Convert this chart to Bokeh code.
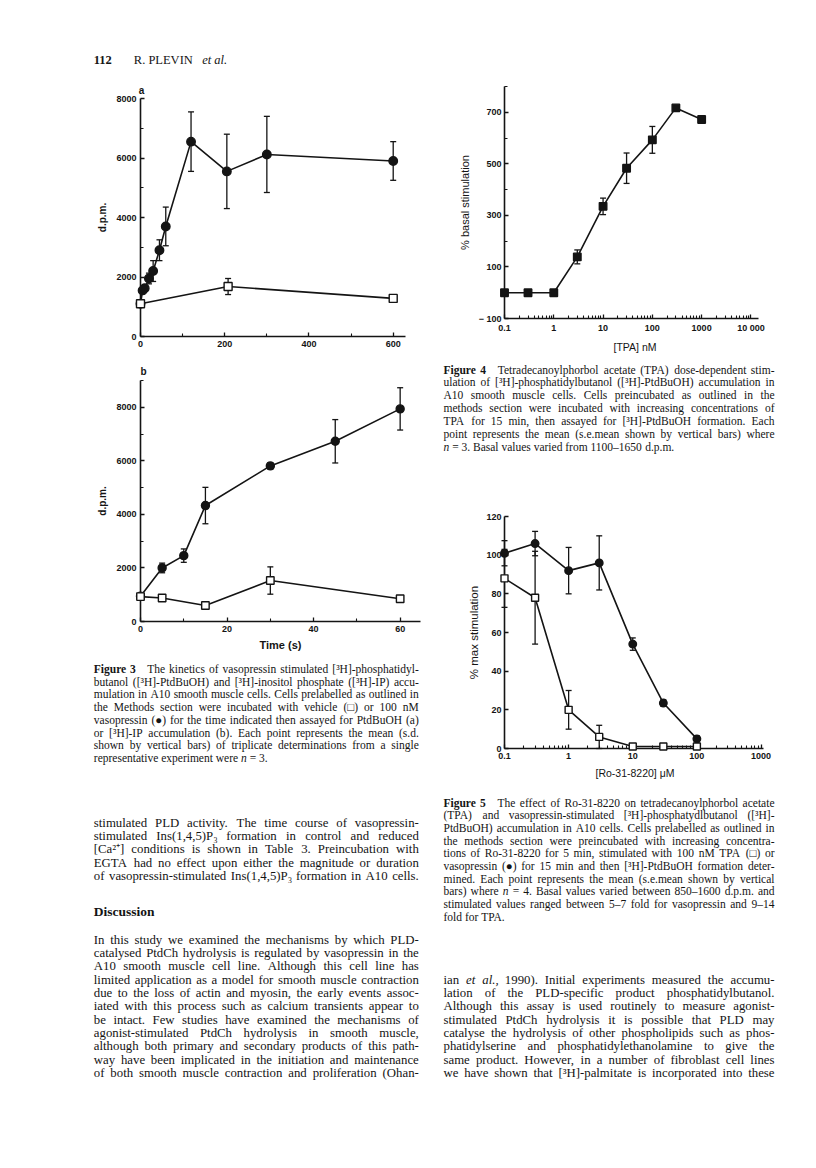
from bokeh.plotting import figure
from bokeh.layouts import column, row
from bokeh.models import Range1d, FixedTicker, CustomJSTickFormatter
from bokeh.core.properties import value
from bokeh.embed import file_html
from bokeh.resources import INLINE

# ---------------- data ----------------
# Figure 3a : [3H]-PtdBuOH (d.p.m.) vs time (s)
t3a_vaso = [0, 5, 10, 20, 30, 45, 60, 120, 205, 300, 600]
dpm3a_vaso = [1100, 1550, 1620, 1950, 2200, 2900, 3700, 6550, 5550, 6120, 5900]
sd3a_vaso = [0, 0, 100, 180, 350, 350, 650, 1000, 1250, 1280, 650]
t3a_veh = [0, 208, 600]
dpm3a_veh = [1100, 1680, 1280]
sd3a_veh = [0, 270, 0]

# Figure 3b : [3H]-IP (d.p.m.) vs time (s)
t3b_vaso = [0, 5, 10, 15, 30, 45, 60]
dpm3b_vaso = [945, 2000, 2460, 4330, 5810, 6730, 7940]
sd3b_vaso = [0, 180, 250, 680, 120, 810, 790]
t3b_veh = [0, 5, 15, 30, 60]
dpm3b_veh = [930, 880, 600, 1530, 850]
sd3b_veh = [0, 0, 0, 510, 0]

# Figure 4 : % basal stimulation vs [TPA] nM
tpa_nm = [0.1, 0.3, 1, 3, 10, 30, 100, 300, 1000]
basal_pct = [0, 0, 0, 139, 335, 483, 593, 717, 672]
sem4 = [0, 0, 0, 27, 32, 59, 52, 0, 0]

# Figure 5 : % max stimulation vs [Ro-31-8220] uM
ro_um = [0.1, 0.3, 1, 3, 10, 30, 100]
max_vaso = [101, 106, 92, 96, 54, 23.5, 5]
sem5_vaso = [6.5, 6.3, 12, 14, 3.2, 1.7, 1.5]
max_tpa = [88, 78, 20, 6, 1, 1, 1]
sem5_tpa = [15, 24, 10, 6, 0, 0, 0]

# ticks
ticks3a_x = [0, 200, 400, 600]
minor3a_x = [100, 300, 500]
ticks3_y = [0, 2000, 4000, 6000, 8000]
minor3a_y = [1000, 3000, 5000, 7000]
minor3b_y = [1000, 3000, 5000, 7000, 9000]
ticks3b_x = [0, 20, 40, 60]
minor3b_x = [10, 30, 50]
ticks4_y = [-100, 100, 300, 500, 700]
minor4_y = [0, 200, 400, 600, 800]
ticks4_x = [0.1, 1, 10, 100, 1000, 10000]
ticks5_y = [0, 20, 40, 60, 80, 100, 120]
ticks5_x = [0.1, 1, 10, 100, 1000]

# ---------------- texts ----------------
header_num = "112"
header_auth = "R. PLEVIN"
header_etal = "et al."
panel_a = "a"
panel_b = "b"

cap3 = [
    "*Figure *3  The kinetics of vasopressin stimulated [\u00b3H]-phosphatidyl-",
    "butanol ([\u00b3H]-PtdBuOH) and [\u00b3H]-inositol phosphate ([\u00b3H]-IP) accu-",
    "mulation in A10 smooth muscle cells. Cells prelabelled as outlined in",
    "the Methods section were incubated with vehicle (\u25a1) or 100 nM",
    "vasopressin (\u25cf) for the time indicated then assayed for PtdBuOH (a)",
    "or [\u00b3H]-IP accumulation (b). Each point represents the mean (s.d.",
    "shown by vertical bars) of triplicate determinations from a single",
    "representative experiment were _n = 3.",
]
body_l1 = [
    "stimulated PLD activity. The time course of vasopressin-",
    "stimulated Ins(1,4,5)P\u2083 formation in control and reduced",
    "[Ca\u00b2\u207a] conditions is shown in Table 3. Preincubation with",
    "EGTA had no effect upon either the magnitude or duration",
    "of vasopressin-stimulated Ins(1,4,5)P\u2083 formation in A10 cells.",
]
heading = "Discussion"
body_l2 = [
    "In this study we examined the mechanisms by which PLD-",
    "catalysed PtdCh hydrolysis is regulated by vasopressin in the",
    "A10 smooth muscle cell line. Although this cell line has",
    "limited application as a model for smooth muscle contraction",
    "due to the loss of actin and myosin, the early events assoc-",
    "iated with this process such as calcium transients appear to",
    "be intact. Few studies have examined the mechanisms of",
    "agonist-stimulated PtdCh hydrolysis in smooth muscle,",
    "although both primary and secondary products of this path-",
    "way have been implicated in the initiation and maintenance",
    "of both smooth muscle contraction and proliferation (Ohan-",
]
cap4 = [
    "*Figure *4  Tetradecanoylphorbol acetate (TPA) dose-dependent stim-",
    "ulation of [\u00b3H]-phosphatidylbutanol ([\u00b3H]-PtdBuOH) accumulation in",
    "A10 smooth muscle cells. Cells preincubated as outlined in the",
    "methods section were incubated with increasing concentrations of",
    "TPA for 15 min, then assayed for [\u00b3H]-PtdBuOH formation. Each",
    "point represents the mean (s.e.mean shown by vertical bars) where",
    "_n = 3. Basal values varied from 1100\u20131650 d.p.m.",
]
cap5 = [
    "*Figure *5  The effect of Ro-31-8220 on tetradecanoylphorbol acetate",
    "(TPA) and vasopressin-stimulated [\u00b3H]-phosphatydlbutanol ([\u00b3H]-",
    "PtdBuOH) accumulation in A10 cells. Cells prelabelled as outlined in",
    "the methods section were preincubated with increasing concentra-",
    "tions of Ro-31-8220 for 5 min, stimulated with 100 nM TPA (\u25a1) or",
    "vasopressin (\u25cf) for 15 min and then [\u00b3H]-PtdBuOH formation deter-",
    "mined. Each point represents the mean (s.e.mean shown by vertical",
    "bars) where _n = 4. Basal values varied between 850\u20131600 d.p.m. and",
    "stimulated values ranged between 5\u20137 fold for vasopressin and 9\u201314",
    "fold for TPA.",
]
body_r = [
    "ian _et _al., 1990). Initial experiments measured the accumu-",
    "lation of the PLD-specific product phosphatidylbutanol.",
    "Although this assay is used routinely to measure agonist-",
    "stimulated PtdCh hydrolysis it is possible that PLD may",
    "catalyse the hydrolysis of other phospholipids such as phos-",
    "phatidylserine and phosphatidylethanolamine to give the",
    "same product. However, in a number of fibroblast cell lines",
    "we have shown that [\u00b3H]-palmitate is incorporated into these",
]

INK = "#141414"
SANS = "Liberation Sans"
SERIF = "Liberation Serif"
LV = "overlay"   # drawn above the frame clip so edge markers / margin text stay whole

# ---------------- helpers ----------------
TW = {}
for ch, w in zip("abcdefghijklmnopqrstuvwxyz",
                 [444, 500, 444, 500, 444, 333, 500, 500, 278, 278, 500, 278, 778,
                  500, 500, 500, 500, 333, 389, 278, 500, 500, 722, 500, 500, 444]):
    TW[ch] = w
for ch, w in zip("ABCDEFGHIJKLMNOPQRSTUVWXYZ",
                 [722, 667, 667, 722, 611, 556, 722, 722, 333, 389, 722, 611, 889,
                  722, 722, 556, 722, 667, 556, 611, 722, 722, 944, 722, 722, 611]):
    TW[ch] = w
for ch in "0123456789":
    TW[ch] = 500
TW.update({".": 250, ",": 250, "-": 333, "(": 333, ")": 333, "[": 333, "]": 333,
           ":": 278, ";": 278, "=": 564, "+": 564, "%": 833, "\u00b3": 300,
           "\u00b2": 300, "\u207a": 300, "\u2083": 300, "\u25a1": 600, "\u25cf": 600,
           "\u2013": 500, "\u03bc": 500})


def measure(word, style):
    w = sum(TW.get(c, 500) for c in word) / 1000.0
    if style == "bold":
        w *= 1.07
    return w


def place(acc, line, x0, x1, y, size, justify):
    words, extra = [], []
    pending = 0.0
    for tok in line.split(" "):
        if tok == "":
            pending += 0.6
            continue
        style = "normal"
        if tok.startswith("*"):
            style, tok = "bold", tok[1:]
        elif tok.startswith("_"):
            style, tok = "italic", tok[1:]
        words.append((tok, style))
        extra.append(pending * size)
        pending = 0.0
    wd = [measure(t, s) * size for t, s in words]
    n = len(words)
    ext = sum(extra[1:])
    if justify and n > 1:
        gap = (x1 - x0 - sum(wd) - ext) / (n - 1)
    else:
        gap = 0.25 * size
    x = x0
    for i, (t, s) in enumerate(words):
        if i > 0:
            x += gap + extra[i]
        if justify and n > 1 and i == n - 1:
            acc.setdefault((s, size, "right"), []).append((x1, y, t))
        else:
            acc.setdefault((s, size, "left"), []).append((x, y, t))
        x += wd[i]


def block(acc, lines, x0, x1, y0, dy, size, justify_last=False):
    for i, ln in enumerate(lines):
        just = (i < len(lines) - 1) or justify_last
        place(acc, ln, x0, x1, y0 + i * dy, size, just)


def flush(p, acc):
    for (style, size, align), items in acc.items():
        p.text(x=[a[0] for a in items], y=[a[1] for a in items],
               text=[a[2] for a in items], text_font=value(SERIF),
               text_font_size=f"{size}px", text_font_style=style,
               text_align=align, text_baseline="alphabetic", text_color=INK, level=LV)


def text_fig(w, h, fx0, fx1, y0, y1, bl, br):
    # frame spans page x fx0..fx1 (1 unit = 1 px); margins shared with the column's charts
    p = figure(width=w, height=h, x_range=Range1d(fx0, fx1), y_range=Range1d(y1, y0),
               x_axis_type=None, y_axis_type=None, title=None,
               output_backend="svg", toolbar_location=None,
               min_border_left=bl, min_border_right=br, min_border_top=0,
               min_border_bottom=0)
    p.outline_line_color = None
    p.background_fill_color = "white"
    p.border_fill_color = "white"
    return p


def chart(w, h, xr, yr, mb, xlog=False):
    p = figure(width=w, height=h, x_range=Range1d(*xr), y_range=Range1d(*yr),
               x_axis_type="log" if xlog else "linear", title=None,
               output_backend="svg", toolbar_location=None,
               min_border_left=mb[0], min_border_right=mb[1],
               min_border_top=mb[2], min_border_bottom=mb[3])
    p.xgrid.visible = False
    p.ygrid.visible = False
    p.outline_line_color = None
    p.background_fill_color = "white"
    p.border_fill_color = "white"
    return p


def style_axis(ax, ticks, minor, bounds=None, label="", lsize="10px",
               lstyle="normal", lstand=5, tstand=4, overrides=None, fmt=None):
    ax.ticker = FixedTicker(ticks=ticks, minor_ticks=minor)
    if bounds is not None:
        ax.bounds = bounds
    ax.axis_line_color = INK
    ax.axis_line_width = 1.6
    ax.major_tick_line_color = INK
    ax.minor_tick_line_color = INK
    ax.major_tick_line_width = 1.3
    ax.minor_tick_line_width = 1.1
    ax.major_tick_in = 4
    ax.major_tick_out = 0
    ax.minor_tick_in = 3
    ax.minor_tick_out = 0
    ax.major_label_text_font = SANS
    ax.major_label_text_font_size = "9px"
    ax.major_label_text_font_style = "bold"
    ax.major_label_text_color = INK
    ax.major_label_standoff = tstand
    if overrides:
        ax.major_label_overrides = overrides
    if fmt is not None:
        ax.formatter = fmt
    ax.axis_label = label
    ax.axis_label_text_font = SANS
    ax.axis_label_text_font_size = lsize
    ax.axis_label_text_font_style = lstyle
    ax.axis_label_text_color = INK
    ax.axis_label_standoff = lstand


def series(p, x, y, err, marker, size, fill, lw=1.6):
    p.line(x, y, line_color=INK, line_width=lw, level=LV)
    xe = [a for a, e in zip(x, err) if e > 0]
    if xe:
        lo = [b - e for b, e in zip(y, err) if e > 0]
        hi = [b + e for b, e in zip(y, err) if e > 0]
        p.segment(x0=xe, y0=lo, x1=xe, y1=hi, line_color=INK, line_width=1.3, level=LV)
        p.scatter(xe + xe, lo + hi, marker="dash", size=6, line_color=INK,
                  line_width=1.3, level=LV)
    p.scatter(x, y, marker=marker, size=size, fill_color=fill, line_color=INK,
              line_width=1.4, level=LV)


def panel_label(p, x, y, txt, dx, dy):
    p.text(x=[x], y=[y], text=[txt], x_offset=dx, y_offset=dy, text_font=value(SANS),
           text_font_size="10px", text_font_style="bold", text_align="center",
           text_baseline="alphabetic", text_color=INK, level=LV)


logfmt = CustomJSTickFormatter(code="""
    if (tick >= 9999) { return "10 000"; }
    return String(Number(tick.toPrecision(3)));
""")

# ---------------- left column (page x 0..430, frames x 140..420) ----------------
LW, LB, RB = 430, 140, 10
LX0, LX1 = 93.3, 418.3

hdr = text_fig(LW, 70, 140, 420, 0, 70, LB, RB)
hdr.text(x=[LX0], y=[59], text=[header_num], text_font=value(SERIF),
         text_font_size="12.5px", text_font_style="bold", text_baseline="alphabetic",
         text_color=INK, level=LV)
hdr.text(x=[133.3], y=[59], text=[header_auth], text_font=value(SERIF),
         text_font_size="12.5px", text_baseline="alphabetic", text_color=INK, level=LV)
hdr.text(x=[133.3 + measure(header_auth + " ", "normal") * 12.5], y=[59],
         text=[header_etal], text_font=value(SERIF), text_font_size="12.5px",
         text_font_style="italic", text_baseline="alphabetic", text_color=INK, level=LV)

# Fig 3a : tile y 70..365, frame y 98..336
p3a = chart(LW, 295, (0, 664.8), (0, 8000), (LB, RB, 28, 29))
series(p3a, t3a_vaso, dpm3a_vaso, sd3a_vaso, "circle", 8.5, INK)
series(p3a, t3a_veh, dpm3a_veh, sd3a_veh, "square", 8, "white")
style_axis(p3a.xaxis[0], ticks3a_x, minor3a_x, bounds=(0, 629.2))
style_axis(p3a.yaxis[0], ticks3_y, minor3a_y, label="d.p.m.", lstyle="bold", lstand=5)
panel_label(p3a, 0, 8000, panel_a, 1, -8)

# Fig 3b : tile y 365..660, frame y 380..621
p3b = chart(LW, 295, (0, 64.7), (0, 9000), (LB, RB, 15, 39))
series(p3b, t3b_vaso, dpm3b_vaso, sd3b_vaso, "circle", 8, INK)
series(p3b, t3b_veh, dpm3b_veh, sd3b_veh, "square", 7.5, "white")
style_axis(p3b.xaxis[0], ticks3b_x, minor3b_x, label="Time (s)", lsize="11px",
           lstyle="bold", lstand=4)
style_axis(p3b.yaxis[0], ticks3_y, minor3b_y, label="d.p.m.", lstyle="bold", lstand=5)
panel_label(p3b, 0, 9000, panel_b, 3, -9)

tl = text_fig(LW, 492, 140, 420, 660, 1152, LB, RB)
acc = {}
block(acc, cap3, LX0, LX1, 668.5, 12.7, 11.5)
block(acc, body_l1, LX0, LX1, 822, 13.35, 12.8, justify_last=True)
block(acc, body_l2, LX0, LX1, 939, 13.35, 12.8, justify_last=True)
flush(tl, acc)
tl.text(x=[LX0], y=[911], text=[heading], text_font=value(SERIF), text_font_size="13.5px",
        text_font_style="bold", text_baseline="alphabetic", text_color=INK, level=LV)

# ---------------- right column (page x 430..800, frames x 504..765) ----------------
RW, LB2, RB2 = 370, 74, 35
RX0, RX1 = 443.0, 774.0

# Fig 4 : tile y 0..359, frame y 86..318
p4 = chart(RW, 359, (0.1, 19770), (-100, 800), (LB2, RB2, 86, 41), xlog=True)
series(p4, tpa_nm, basal_pct, sem4, "square", 7.5, INK)
style_axis(p4.xaxis[0], ticks4_x,
           [d * k for d in [0.1, 1, 10, 100, 1000] for k in range(2, 10)],
           bounds=(0.1, 14260), label="[TPA] nM", lsize="10.5px", lstand=5, fmt=logfmt)
style_axis(p4.yaxis[0], ticks4_y, minor4_y, label="% basal stimulation", lsize="11px",
           lstand=5, tstand=3, overrides={-100: "\u2212 100"})

tm = text_fig(RW, 96, 504, 765, 359, 455, LB2, RB2)
acc = {}
block(acc, cap4, RX0, RX1, 369, 12.85, 11.5)
flush(tm, acc)

# Fig 5 : tile y 455..795, frame y 516..748
p5 = chart(RW, 340, (0.1, 1175), (0, 120), (LB2, RB2, 61, 47), xlog=True)
series(p5, ro_um, max_vaso, sem5_vaso, "circle", 7.5, INK)
series(p5, ro_um, max_tpa, sem5_tpa, "square", 7, "white")
style_axis(p5.xaxis[0], ticks5_x,
           [d * k for d in [0.1, 1, 10, 100] for k in range(2, 10)],
           bounds=(0.1, 1080), label="[Ro-31-8220] \u03bcM", lsize="10.5px", lstand=5,
           fmt=logfmt)
style_axis(p5.yaxis[0], ticks5_y, [], label="% max stimulation", lsize="11.5px",
           lstand=3, tstand=3)

tr = text_fig(RW, 357, 504, 765, 795, 1152, LB2, RB2)
acc = {}
block(acc, cap5, RX0, RX1, 802, 12.7, 11.5)
block(acc, body_r, RX0, RX1, 979, 13.35, 12.8, justify_last=True)
flush(tr, acc)

left = column(hdr, p3a, p3b, tl, spacing=0)
right = column(p4, tm, p5, tr, spacing=0)
page = row(left, right, spacing=0)

open("out.html", "w").write(file_html(page, INLINE))
